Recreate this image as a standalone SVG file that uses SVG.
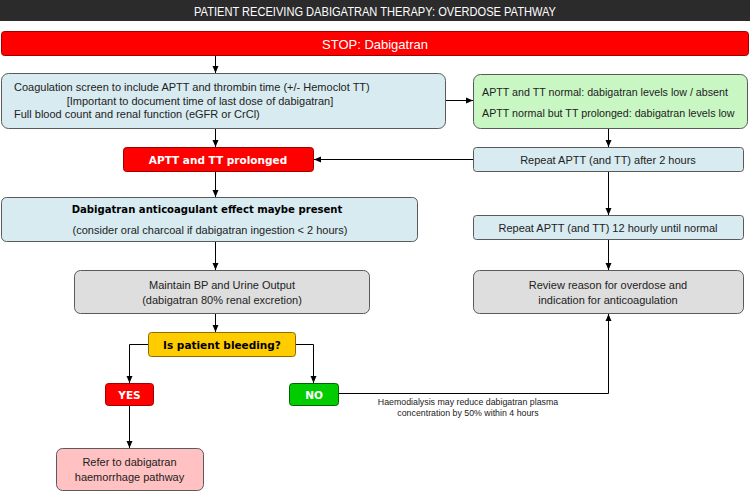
<svg xmlns="http://www.w3.org/2000/svg" width="750" height="492" viewBox="0 0 750 492">
<defs>
<marker id="ah" markerWidth="8" markerHeight="8" refX="7" refY="4" orient="auto" markerUnits="userSpaceOnUse">
<path d="M0,1 L7,4 L0,7 Z" fill="#000"/>
</marker>
<style>
.box{stroke:#5a5a5a;stroke-width:1}
.blue{fill:#d8ebf0}
.grey{fill:#dedede}
.green{fill:#c9f7c3}
.pink{fill:#ffc1c1}
.red{fill:#ff0000;stroke:#a00000}
.t{font-family:"Liberation Sans",Arial,sans-serif;font-size:11px;fill:#222}
.c{text-anchor:middle}
.b{font-family:"DejaVu Sans",Verdana,sans-serif;font-weight:bold;font-size:10.5px}
.w{fill:#fff}
.ln{stroke:#000;stroke-width:1;fill:none}
</style>
</defs>
<rect width="750" height="492" fill="#fff"/>
<g id="title">
<rect x="0" y="0" width="750" height="21" fill="#2b2b2b"/>
<text x="375" y="16" class="t c w" textLength="362" lengthAdjust="spacingAndGlyphs" style="font-size:12px;fill:#fff">PATIENT RECEIVING DABIGATRAN THERAPY: OVERDOSE PATHWAY</text>
</g>
<g id="stop">
<rect x="1.5" y="31.5" width="747" height="24" rx="3" class="red"/>
<text x="375" y="48.5" class="t c" style="font-size:13px;fill:#fff">STOP: Dabigatran</text>
</g>
<g id="coag">
<rect x="1.5" y="73.5" width="444" height="55" rx="7" class="box blue"/>
<text x="14" y="91" class="t">Coagulation screen to include APTT and thrombin time (+/- Hemoclot TT)</text>
<text x="200" y="105" class="t c">[Important to document time of last dose of dabigatran]</text>
<text x="14" y="118" class="t">Full blood count and renal function (eGFR or CrCl)</text>
</g>
<g id="normal">
<rect x="473.5" y="74.5" width="274" height="54" rx="7" class="box green"/>
<text x="482" y="96" class="t" style="font-size:10.7px">APTT and TT normal: dabigatran levels low / absent</text>
<text x="482" y="117" class="t" style="font-size:10.7px">APTT normal but TT prolonged: dabigatran levels low</text>
</g>
<g id="prolonged">
<rect x="123.5" y="147.5" width="190" height="24" rx="3" class="red"/>
<text x="218" y="163.5" class="b c w">APTT and TT  prolonged</text>
</g>
<g id="repeat2">
<rect x="473.5" y="147.5" width="270" height="24" rx="3" class="box blue"/>
<text x="608" y="164" class="t c">Repeat APTT (and TT) after 2 hours</text>
</g>
<g id="effect">
<rect x="1.5" y="197.5" width="416" height="44" rx="5" class="box blue"/>
<text x="207" y="213" class="b c" style="fill:#000;font-size:10.1px">Dabigatran anticoagulant effect maybe present</text>
<text x="210" y="234" class="t c">(consider oral charcoal if dabigatran ingestion &lt; 2 hours)</text>
</g>
<g id="repeat12">
<rect x="473.5" y="215.5" width="270" height="24" rx="3" class="box blue"/>
<text x="608" y="232" class="t c">Repeat APTT (and TT) 12 hourly until normal</text>
</g>
<g id="maintain">
<rect x="74.5" y="270.5" width="295" height="43" rx="6" class="box grey"/>
<text x="222" y="289" class="t c">Maintain BP and Urine Output</text>
<text x="222" y="304" class="t c">(dabigatran 80% renal excretion)</text>
</g>
<g id="review">
<rect x="473.5" y="270.5" width="270" height="43" rx="6" class="box grey"/>
<text x="608" y="289" class="t c">Review reason for overdose and</text>
<text x="608" y="304" class="t c">indication for anticoagulation</text>
</g>
<g id="bleeding">
<rect x="148.5" y="332.5" width="147" height="24" rx="3" fill="#ffcc00" stroke="#8a6d00"/>
<text x="222" y="349" class="b c" style="fill:#000">Is patient bleeding?</text>
</g>
<g id="yes">
<rect x="105.5" y="383.5" width="48" height="22" rx="3" class="red"/>
<text x="129.5" y="398.5" class="b c w">YES</text>
</g>
<g id="no">
<rect x="289.5" y="383.5" width="49" height="22" rx="3" fill="#00cc00" stroke="#006600"/>
<text x="314" y="398.5" class="b c w">NO</text>
</g>
<g id="refer">
<rect x="56.5" y="448.5" width="147" height="42" rx="6" class="box pink"/>
<text x="129.5" y="466" class="t c">Refer to dabigatran</text>
<text x="129.5" y="481" class="t c">haemorrhage pathway</text>
</g>
<g id="connectors">
<line x1="215.5" y1="56" x2="215.5" y2="73" class="ln" marker-end="url(#ah)"/>
<line x1="446" y1="100.5" x2="473" y2="100.5" class="ln" marker-end="url(#ah)"/>
<line x1="215.5" y1="129" x2="215.5" y2="147" class="ln" marker-end="url(#ah)"/>
<line x1="608.5" y1="129" x2="608.5" y2="147" class="ln" marker-end="url(#ah)"/>
<line x1="473" y1="159.5" x2="314" y2="159.5" class="ln" marker-end="url(#ah)"/>
<line x1="215.5" y1="172" x2="215.5" y2="197" class="ln" marker-end="url(#ah)"/>
<line x1="608.5" y1="172" x2="608.5" y2="215" class="ln" marker-end="url(#ah)"/>
<line x1="608.5" y1="240" x2="608.5" y2="270" class="ln" marker-end="url(#ah)"/>
<line x1="215.5" y1="242" x2="215.5" y2="270" class="ln" marker-end="url(#ah)"/>
<line x1="215.5" y1="314" x2="215.5" y2="332" class="ln" marker-end="url(#ah)"/>
<polyline points="148,344.5 129.5,344.5 129.5,383" class="ln" marker-end="url(#ah)"/>
<polyline points="296,344.5 313.5,344.5 313.5,383" class="ln" marker-end="url(#ah)"/>
<line x1="129.5" y1="406" x2="129.5" y2="448" class="ln" marker-end="url(#ah)"/>
<polyline points="339,393.5 608.5,393.5 608.5,314" class="ln" marker-end="url(#ah)"/>
<text x="468" y="405" class="t c" style="font-size:8.8px">Haemodialysis may reduce dabigatran plasma</text>
<text x="468" y="415.5" class="t c" style="font-size:8.8px">concentration by 50% within 4 hours</text>
</g>
</svg>
